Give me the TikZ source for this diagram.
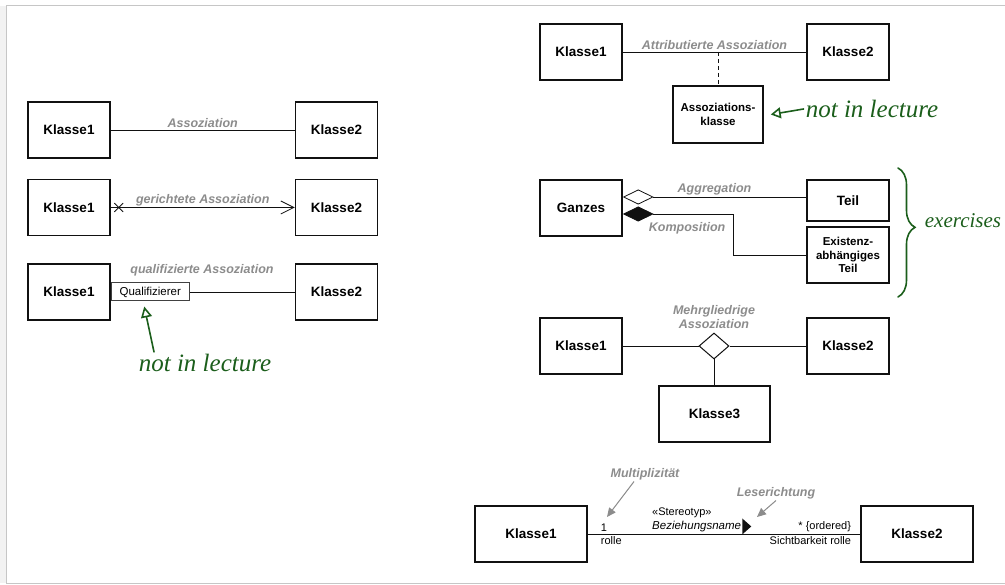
\documentclass[tikz,border=0pt]{standalone}
\usepackage{fontspec}
\setmainfont{Liberation Sans}
\newfontfamily\handfont{Liberation Serif}
\usetikzlibrary{arrows.meta,positioning,calc,shapes.geometric,shapes.misc,decorations.pathreplacing}
\definecolor{ink}{HTML}{111111}
\definecolor{labgray}{HTML}{8C8C8C}
\definecolor{framegray}{HTML}{C6C6C6}
\definecolor{penink}{HTML}{1B5E1B}

\begin{document}
\begin{tikzpicture}[x=1pt, y=-1pt,
  cls/.style={draw=ink, line width=1.5pt, inner sep=0pt, minimum width=82pt, minimum height=56pt, align=center,
              font=\fontsize{13.5}{15}\selectfont\bfseries},
  clsm/.style={cls, font=\fontsize{11.5}{13.5}\selectfont\bfseries},
  lab/.style={text=labgray, inner sep=1.5pt, align=center, font=\fontsize{12.5}{14.5}\selectfont\bfseries\itshape},
  rl/.style={inner sep=2pt, font=\fontsize{11}{12}\selectfont},
  assoc/.style={draw=ink, line width=0.8pt},
  hint/.style={-{Triangle[length=9pt,width=8pt]}, draw=labgray, fill=labgray, line width=1pt},
  scrawl/.style={draw=penink, line width=1.6pt, line cap=round},
  note/.style={text=penink, inner sep=0pt, font=\handfont\itshape\fontsize{25}{27}\selectfont}]

% ---------------- frame
\useasboundingbox (0,0) rectangle (1005,585);
\fill[gray!10] (0,6) rectangle (5.5,583);
\draw[framegray, line width=1pt] (1005,6) -- (6,6) -- (6,583) -- (1005,583);

% ---------------- left column: simple, directed, qualified
\node[cls] (a1) at (69,130) {Klasse1};
\node[cls] (a2) at (336.5,130) {Klasse2};
\draw[assoc] (a1) -- node[lab, above] {Assoziation} (a2);

\node[cls] (g1) at (69,207.5) {Klasse1};
\node[cls] (g2) at (336.5,207.5) {Klasse2};
\draw[assoc, -{Straight Barb[length=13pt,width=13pt]}] (g1) -- node[lab, above] {gerichtete Assoziation} (g2);
\node[cross out, draw=ink, line width=0.8pt, minimum size=8pt, inner sep=0pt] (nav) at ([xshift=8pt]g1.east) {};

\node[cls] (q1) at (69,292) {Klasse1};
\node[cls] (q2) at (336.5,292) {Klasse2};
\node[draw=ink!80, line width=1pt, minimum width=78pt, minimum height=18pt, inner sep=0pt, anchor=west,
      font=\fontsize{11.5}{12}\selectfont] (qual) at (q1.east) {Qualifizierer};
\draw[assoc] (qual) -- (q2);
\node[lab] (qlab) at (202,270) {qualifizierte Assoziation};

\node[note] (nl1) at (205,363) {not in lecture};
\draw[scrawl, -{Triangle[open,length=11pt,width=11pt]}] ([xshift=-51pt,yshift=2pt]nl1.north) -- ([xshift=-6pt,yshift=-5pt]qual.south);

% ---------------- right column: attributed association
\node[cls] (b1) at (581,52) {Klasse1};
\node[cls] (b2) at (848,52) {Klasse2};
\draw[assoc] (b1) -- node[lab, above] {Attributierte Assoziation} (b2);
\node[clsm, minimum width=90pt, minimum height=57pt] (ak) at (718,114.5) {Assoziations-\\klasse};
\coordinate (akline) at (ak.north |- b1.east);
\draw[assoc, dash pattern=on 4pt off 3pt] (akline) -- (ak.north);

\node[note] (nl2) at (872,109) {not in lecture};
\draw[scrawl, -{Triangle[open,length=10pt,width=11pt]}] ([xshift=-2pt]nl2.west) -- ([xshift=7pt]ak.east);

% ---------------- aggregation and composition
\node[cls] (ganz) at (581,208) {Ganzes};
\node[cls, minimum height=41pt] (teil) at (848,200.5) {Teil};
\node[clsm, minimum height=56pt] (exist) at (848,255) {Existenz-\\abhängiges\\Teil};
\coordinate (aggs) at ([yshift=11pt]ganz.east);
\coordinate (koms) at ([yshift=-6pt]ganz.east);
\draw[assoc, {Diamond[open,length=31pt,width=15pt]}-] (aggs) -- node[lab, above] {Aggregation} (aggs -| teil.west);
\draw[assoc, {Diamond[length=31pt,width=15pt]}-] (koms) -- node[lab, below=7pt, pos=0.58] {Komposition} ++(111,0) |- (exist.west);

\draw[scrawl, decorate, decoration={brace, amplitude=17pt, aspect=0.46}] (898,168) -- (898,297);
\node[note, font=\handfont\itshape\fontsize{21}{23}\selectfont] (exer) at (963,221) {exercises};

% ---------------- n-ary association
\node[cls] (c1) at (581,346) {Klasse1};
\node[cls] (c2) at (848,346) {Klasse2};
\node[cls, minimum width=111pt] (c3) at (714.5,414) {Klasse3};
\node[diamond, draw=ink, line width=1pt, minimum width=30pt, minimum height=26pt, inner sep=0pt, fill=white] (tern) at (714,346) {};
\draw[assoc] (c1) -- (tern);
\draw[assoc] (tern) -- (c2);
\draw[assoc] (tern.south) -- (tern.south |- c3.north);
\node[lab, anchor=south] (mlab) at ([yshift=2pt]tern.north) {Mehrgliedrige\\Assoziation};

% ---------------- adornments of an association
\node[cls, minimum width=112pt] (d1) at (531,534) {Klasse1};
\node[cls, minimum width=112pt] (d2) at (917,534) {Klasse2};
\draw[assoc] (d1) -- (d2);
\node[rl, anchor=south west] (mul1) at ([xshift=11pt]d1.east) {1};
\node[rl, anchor=north west] (rol1) at ([xshift=11pt]d1.east) {rolle};
\node[rl, anchor=south east] (mul2) at ([xshift=-7pt]d2.west) {* \{ordered\}};
\node[rl, anchor=north east] (rol2) at ([xshift=-7pt]d2.west) {Sichtbarkeit rolle};
\node[rl, anchor=south west, font=\fontsize{11.5}{12}\selectfont\itshape] (bn) at (650,534) {Beziehungsname};
\node[rl, anchor=south west] (st) at ([yshift=-1pt]bn.north west) {«Stereotyp»};
\fill[ink] ([xshift=-1pt]bn.east) ++(0,-8) -- ++(9,8) -- ++(-9,8) -- cycle;

\node[lab] (mult) at (645,474) {Multiplizität};
\coordinate (multtip) at (607,517);
\draw[hint] ([xshift=-11pt]mult.south) -- (multtip);
\node[lab] (lese) at (776,493) {Leserichtung};
\coordinate (lesetip) at (757,517);
\draw[hint] (lese.south) -- (lesetip);
\end{tikzpicture}
\end{document}
